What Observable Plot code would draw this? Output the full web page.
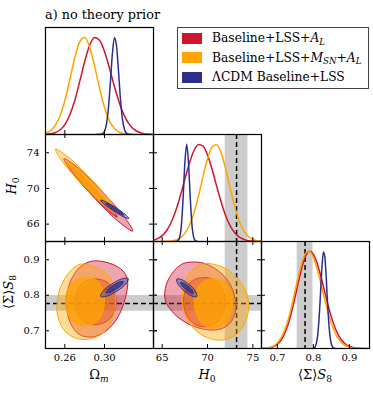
<!DOCTYPE html>
<html>
<head>
<meta charset="utf-8">
<script src="https://cdn.jsdelivr.net/npm/d3@7"></script>
<script src="https://cdn.jsdelivr.net/npm/@observablehq/plot@0.6"></script>
<style>
html,body{margin:0;padding:0;background:#fff;}
#root{position:relative;width:373px;height:396px;overflow:hidden;background:#fff;}
#root svg{position:absolute;left:0;top:0;}
.t{position:absolute;font-family:"DejaVu Serif","Liberation Serif",serif;color:#000;white-space:nowrap;line-height:1;}
.sub{font-size:70%;position:relative;top:0.3em;}
.legend{position:absolute;left:177px;top:27px;width:192px;height:62px;box-sizing:border-box;border:1px solid #444;background:#fff;}
.patch{position:absolute;left:4px;width:20px;height:11px;}
.lt{position:absolute;left:34px;font-size:12.3px;transform:translateY(-50%);}
</style>
</head>
<body>
<div id="root"></div>
<script>
// ---------- data ----------
const series = ["Baseline+LSS+A_L", "Baseline+LSS+M_SN+A_L", "ΛCDM Baseline+LSS"];
const omTicks = [0.26, 0.30];
const h0Ticks = [65, 70, 75];
const h0YTicks = [66, 70, 74];
const s8Ticks = [0.7, 0.8, 0.9];
const h0Ref = 73.2, h0Err = 1.25;
const s8Ref = 0.777, s8Err = 0.022;

// 1D marginals (parameter, normalised density)
const omRed = [[0.240,0.002],[0.245,0.007],[0.250,0.018],[0.255,0.046],[0.260,0.101],[0.265,0.200],[0.270,0.349],[0.275,0.546],[0.280,0.750],[0.285,0.918],[0.290,0.998],[0.295,0.969],[0.300,0.854],[0.305,0.682],[0.310,0.493],[0.315,0.325],[0.320,0.194],[0.325,0.104],[0.330,0.051],[0.335,0.023],[0.340,0.009],[0.345,0.003],[0.350,0.001]];
const omOrange = [[0.240,0.012],[0.245,0.034],[0.250,0.087],[0.255,0.187],[0.260,0.349],[0.265,0.565],[0.270,0.789],[0.275,0.953],[0.280,0.997],[0.285,0.900],[0.290,0.703],[0.295,0.475],[0.300,0.278],[0.305,0.140],[0.310,0.061],[0.315,0.023],[0.320,0.007],[0.325,0.002],[0.330,0.000],[0.350,0.000]];
const omBlue = [[0.292,0.000],[0.296,0.002],[0.298,0.008],[0.300,0.034],[0.302,0.110],[0.304,0.278],[0.306,0.546],[0.308,0.835],[0.310,0.995],[0.312,0.923],[0.314,0.667],[0.316,0.375],[0.318,0.164],[0.320,0.056],[0.322,0.015],[0.324,0.003],[0.328,0.000]];

const h0Red = [[64.0,0.013],[64.5,0.029],[65.0,0.060],[65.5,0.113],[66.0,0.198],[66.5,0.319],[67.0,0.470],[67.5,0.642],[68.0,0.805],[68.5,0.933],[69.0,0.996],[69.5,0.980],[70.0,0.888],[70.5,0.743],[71.0,0.570],[71.5,0.407],[72.0,0.265],[72.5,0.161],[73.0,0.089],[73.5,0.045],[74.0,0.022],[74.5,0.009],[75.0,0.004],[75.5,0.001],[76.0,0.000]];
const h0Orange = [[64.0,0.000],[65.0,0.001],[65.5,0.002],[66.0,0.005],[66.5,0.015],[67.0,0.037],[67.5,0.083],[68.0,0.164],[68.5,0.293],[69.0,0.468],[69.5,0.667],[70.0,0.850],[70.5,0.974],[71.0,0.995],[71.5,0.911],[72.0,0.745],[72.5,0.546],[73.0,0.359],[73.5,0.209],[74.0,0.110],[74.5,0.052],[75.0,0.022],[75.5,0.008],[76.0,0.003]];
const h0Blue = [[66.5,0.001],[66.7,0.005],[66.9,0.036],[67.1,0.152],[67.3,0.435],[67.5,0.810],[67.7,1.000],[67.9,0.810],[68.1,0.435],[68.3,0.152],[68.5,0.036],[68.7,0.005],[68.9,0.001]];

const s8Red = [[0.66,0.002],[0.67,0.004],[0.68,0.009],[0.69,0.021],[0.70,0.044],[0.71,0.085],[0.72,0.152],[0.73,0.249],[0.74,0.381],[0.75,0.540],[0.76,0.708],[0.77,0.857],[0.78,0.962],[0.79,1.000],[0.80,0.969],[0.81,0.882],[0.82,0.755],[0.83,0.607],[0.84,0.458],[0.85,0.325],[0.86,0.216],[0.87,0.135],[0.88,0.080],[0.89,0.044],[0.90,0.023],[0.91,0.011],[0.92,0.005],[0.93,0.002],[0.94,0.001],[0.95,0.000]];
const s8Orange = [[0.66,0.002],[0.67,0.006],[0.68,0.013],[0.69,0.028],[0.70,0.057],[0.71,0.108],[0.72,0.187],[0.73,0.297],[0.74,0.441],[0.75,0.607],[0.76,0.771],[0.77,0.906],[0.78,0.986],[0.79,0.995],[0.80,0.937],[0.81,0.826],[0.82,0.685],[0.83,0.528],[0.84,0.385],[0.85,0.260],[0.86,0.165],[0.87,0.099],[0.88,0.055],[0.89,0.028],[0.90,0.014],[0.91,0.006],[0.92,0.002],[0.93,0.001],[0.94,0.000]];
const s8Blue = [[0.800,0.003],[0.804,0.013],[0.808,0.047],[0.812,0.135],[0.816,0.311],[0.820,0.570],[0.824,0.841],[0.828,0.993],[0.832,0.940],[0.836,0.714],[0.840,0.435],[0.844,0.212],[0.848,0.082],[0.852,0.025],[0.856,0.006],[0.860,0.001]];

// 2D contours (95% and 68%): Omega_m vs H0
const omH0Red95 = [[0.3285,65.21],[0.3209,66.68],[0.2974,69.67],[0.2718,72.44],[0.2590,73.36],[0.2666,71.89],[0.2901,68.90],[0.3158,66.13]];
const omH0Red68 = [[0.3127,66.78],[0.3070,67.77],[0.2903,69.85],[0.2725,71.81],[0.2640,72.50],[0.2698,71.52],[0.2864,69.44],[0.3042,67.47]];
const omH0Orange95 = [[0.3138,67.08],[0.3071,68.43],[0.2858,71.13],[0.2624,73.61],[0.2506,74.41],[0.2572,73.06],[0.2785,70.36],[0.3019,67.88]];
const omH0Orange68 = [[0.3094,67.46],[0.3039,68.44],[0.2875,70.49],[0.2699,72.40],[0.2613,73.06],[0.2668,72.07],[0.2832,70.03],[0.3008,68.11]];
const omH0Blue95 = [[0.3245,66.63],[0.3211,67.07],[0.3113,67.85],[0.3009,68.52],[0.2959,68.69],[0.2994,68.25],[0.3091,67.47],[0.3195,66.80]];
const omH0Blue68 = [[0.3195,67.01],[0.3172,67.28],[0.3109,67.79],[0.3042,68.23],[0.3010,68.35],[0.3032,68.08],[0.3096,67.57],[0.3163,67.13]];

// Omega_m vs S8
const omS8Red95 = [[0.2909,0.8970],[0.3077,0.8876],[0.3185,0.8689],[0.3232,0.8435],[0.3218,0.8013],[0.3171,0.7590],[0.3094,0.7214],[0.2983,0.6933],[0.2859,0.6820],[0.2741,0.6905],[0.2657,0.7214],[0.2617,0.7684],[0.2633,0.8200],[0.2701,0.8623],[0.2791,0.8876]];
const omS8Red68 = [[0.2909,0.8463],[0.3027,0.8369],[0.3094,0.8125],[0.3117,0.7825],[0.3094,0.7496],[0.3020,0.7261],[0.2909,0.7168],[0.2801,0.7243],[0.2731,0.7468],[0.2707,0.7806],[0.2731,0.8153],[0.2801,0.8388]];
const omS8Orange95 = [[0.2758,0.8876],[0.2892,0.8811],[0.3010,0.8623],[0.3087,0.8341],[0.3111,0.7966],[0.3101,0.7543],[0.3043,0.7121],[0.2943,0.6858],[0.2808,0.6754],[0.2691,0.6811],[0.2590,0.7027],[0.2529,0.7402],[0.2523,0.7825],[0.2566,0.8294],[0.2657,0.8689]];
const omS8Orange68 = [[0.2825,0.8501],[0.2926,0.8407],[0.2983,0.8153],[0.3000,0.7825],[0.2976,0.7496],[0.2909,0.7233],[0.2801,0.7139],[0.2701,0.7214],[0.2633,0.7449],[0.2607,0.7778],[0.2623,0.8125],[0.2701,0.8407]];
const omS8Blue95 = [[0.3240,0.8468],[0.3216,0.8322],[0.3124,0.8116],[0.3019,0.7970],[0.2961,0.7970],[0.2985,0.8117],[0.3077,0.8322],[0.3182,0.8468]];
const omS8Blue68 = [[0.3191,0.8384],[0.3175,0.8299],[0.3117,0.8173],[0.3051,0.8079],[0.3017,0.8073],[0.3033,0.8158],[0.3091,0.8284],[0.3157,0.8378]];

// H0 vs S8
const h0S8Red95 = [[68.08,0.8933],[69.55,0.8905],[71.02,0.8717],[72.31,0.8388],[73.04,0.7919],[73.04,0.7496],[72.31,0.7168],[71.02,0.7027],[69.37,0.7055],[67.72,0.7214],[66.25,0.7496],[65.33,0.7872],[65.44,0.8294],[66.25,0.8670],[67.16,0.8876]];
const h0S8Red68 = [[69.63,0.8501],[70.84,0.8426],[71.65,0.8182],[71.94,0.7825],[71.65,0.7468],[70.84,0.7205],[69.63,0.7111],[68.45,0.7205],[67.64,0.7468],[67.35,0.7825],[67.64,0.8182],[68.45,0.8426]];
const h0S8Orange95 = [[69.92,0.8895],[71.76,0.8783],[73.23,0.8501],[74.22,0.8107],[74.55,0.7684],[74.18,0.7261],[73.23,0.6905],[71.83,0.6745],[70.36,0.6773],[68.93,0.6961],[67.83,0.7290],[67.24,0.7712],[67.27,0.8153],[67.83,0.8548],[68.74,0.8801]];
const h0S8Orange68 = [[70.66,0.8463],[71.83,0.8369],[72.57,0.8107],[72.79,0.7778],[72.49,0.7430],[71.76,0.7168],[70.66,0.7074],[69.55,0.7168],[68.82,0.7430],[68.52,0.7778],[68.74,0.8125],[69.55,0.8388]];
const h0S8Blue95 = [[68.82,0.7966],[68.70,0.8097],[68.01,0.8295],[67.14,0.8443],[66.61,0.8454],[66.73,0.8322],[67.42,0.8124],[68.29,0.7977]];
const h0S8Blue68 = [[68.41,0.8055],[68.31,0.8130],[67.86,0.8252],[67.33,0.8350],[67.02,0.8365],[67.12,0.8290],[67.57,0.8168],[68.10,0.8070]];

// ---------- layout & style ----------
const RED = "#d01430", ORANGE = "#ffa500", BLUE = "#2b2f8b", K = "#000", BAND = "#cccccc";
const W = 373, H = 396;
const colX = [45, 153, 261, 369], rowY = [27, 134, 241, 348];
const PW = 108, PH = 107, TL = 4;
const omDomain = [0.2405, 0.3494], h0XDomain = [64.04, 75.95], h0YDomain = [64.05, 76.05];
const s8XDomain = [0.656, 0.956], s8YDomain = [0.650, 0.9515], densDomain = [0, 1.1];
const root = document.getElementById("root");

function panel(c, r, xd, yd, marks) {
  root.appendChild(Plot.plot({
    width: W, height: H,
    marginLeft: colX[c], marginRight: W - colX[c + 1],
    marginTop: rowY[r], marginBottom: H - rowY[r + 1],
    x: {domain: xd, axis: null}, y: {domain: yd, axis: null},
    style: {background: "transparent", overflow: "visible", fontFamily: "'DejaVu Serif', 'Liberation Serif', serif", fontSize: "10px", color: "#000"},
    marks
  }));
}
const dens = (pts, color) => Plot.line(pts, {x: d => d[0], y: d => d[1], stroke: color, strokeWidth: 1.5, curve: "monotone-x", clip: true});
const cont = (pts, color, op) => Plot.line(pts, {x: d => d[0], y: d => d[1], curve: "catmull-rom-closed", fill: color, fillOpacity: op, stroke: color, strokeWidth: 1, clip: true});
const contours = (r95, r68, o95, o68, b95, b68) => [
  cont(r95, RED, 0.38), cont(r68, RED, 0.45),
  cont(o95, ORANGE, 0.4), cont(o68, ORANGE, 0.75),
  cont(b95, BLUE, 0.35), cont(b68, BLUE, 0.75)
];
const tBottom = v => Plot.tickX(v, {x: d => d, insetTop: PH - TL, stroke: K});
const tTop = v => Plot.tickX(v, {x: d => d, insetBottom: PH - TL, stroke: K});
const tLeft = v => Plot.tickY(v, {y: d => d, insetRight: PW - TL, stroke: K});
const tRight = v => Plot.tickY(v, {y: d => d, insetLeft: PW - TL, insetRight: -TL, stroke: K});
const frame = () => Plot.frame({stroke: K, strokeWidth: 1.2});
const vBand = (yd) => Plot.rect([h0Ref], {x1: d => d - h0Err, x2: d => d + h0Err, y1: () => yd[0], y2: () => yd[1], fill: BAND});
const vBandS8 = (yd) => Plot.rect([s8Ref], {x1: d => d - s8Err, x2: d => d + s8Err, y1: () => yd[0], y2: () => yd[1], fill: BAND});
const hBand = (xd) => Plot.rect([s8Ref], {y1: d => d - s8Err, y2: d => d + s8Err, x1: () => xd[0], x2: () => xd[1], fill: BAND});
const dashX = v => Plot.ruleX([v], {x: d => d, stroke: K, strokeWidth: 1.5, strokeDasharray: "5,3"});
const dashY = v => Plot.ruleY([v], {y: d => d, stroke: K, strokeWidth: 1.5, strokeDasharray: "5,3"});
const f2 = d3.format(".2f"), f1 = d3.format(".1f");

// Omega_m 1D
panel(0, 0, omDomain, densDomain, [dens(omRed, RED), dens(omOrange, ORANGE), dens(omBlue, BLUE), frame(), tBottom(omTicks)]);
// Omega_m - H0
panel(0, 1, omDomain, h0YDomain, [
  ...contours(omH0Red95, omH0Red68, omH0Orange95, omH0Orange68, omH0Blue95, omH0Blue68),
  frame(), tTop(omTicks), tBottom(omTicks), tLeft(h0YTicks), tRight(h0YTicks),
  Plot.axisY(h0YTicks, {anchor: "left", tickSize: 0, tickPadding: 6, label: null})
]);
// H0 1D
panel(1, 1, h0XDomain, densDomain, [vBand(densDomain), dashX(h0Ref), dens(h0Red, RED), dens(h0Orange, ORANGE), dens(h0Blue, BLUE), frame(), tBottom(h0Ticks)]);
// Omega_m - S8
panel(0, 2, omDomain, s8YDomain, [
  hBand(omDomain), dashY(s8Ref),
  ...contours(omS8Red95, omS8Red68, omS8Orange95, omS8Orange68, omS8Blue95, omS8Blue68),
  frame(), tTop(omTicks), tBottom(omTicks), tLeft(s8Ticks), tRight(s8Ticks),
  Plot.axisY(s8Ticks, {anchor: "left", tickSize: 0, tickPadding: 6, tickFormat: f1, label: null}),
  Plot.axisX(omTicks, {anchor: "bottom", tickSize: 0, tickPadding: 5, tickFormat: f2, label: null})
]);
// H0 - S8
panel(1, 2, h0XDomain, s8YDomain, [
  vBand(s8YDomain), hBand(h0XDomain), dashX(h0Ref), dashY(s8Ref),
  ...contours(h0S8Red95, h0S8Red68, h0S8Orange95, h0S8Orange68, h0S8Blue95, h0S8Blue68),
  frame(), tTop(h0Ticks), tBottom(h0Ticks), tLeft(s8Ticks), tRight(s8Ticks),
  Plot.axisX(h0Ticks, {anchor: "bottom", tickSize: 0, tickPadding: 5, label: null})
]);
// S8 1D
panel(2, 2, s8XDomain, densDomain, [
  vBandS8(densDomain), dashX(s8Ref),
  dens(s8Red, RED), dens(s8Orange, ORANGE), dens(s8Blue, BLUE), frame(), tBottom(s8Ticks),
  Plot.axisX(s8Ticks, {anchor: "bottom", tickSize: 0, tickPadding: 5, tickFormat: f1, label: null})
]);

// ---------- text: title, axis titles, legend ----------
function addHTML(html) { root.insertAdjacentHTML("beforeend", html); }
addHTML(`<div class="t" style="left:45px;top:9px;font-size:12.8px;">a) no theory prior</div>`);
addHTML(`<div class="t" style="left:99px;top:368px;font-size:13px;transform:translateX(-50%);">Ω<span class="sub"><i>m</i></span></div>`);
addHTML(`<div class="t" style="left:207px;top:368px;font-size:13px;transform:translateX(-50%);"><i>H</i><span class="sub">0</span></div>`);
addHTML(`<div class="t" style="left:315px;top:368px;font-size:13px;transform:translateX(-50%);">⟨Σ⟩<i>S</i><span class="sub">8</span></div>`);
addHTML(`<div class="t" style="left:12px;top:186px;font-size:13px;transform:translate(-50%,-50%) rotate(-90deg);"><i>H</i><span class="sub">0</span></div>`);
addHTML(`<div class="t" style="left:9px;top:292px;font-size:13px;transform:translate(-50%,-50%) rotate(-90deg);">⟨Σ⟩<i>S</i><span class="sub">8</span></div>`);

const legendColors = [RED, ORANGE, BLUE];
const legendHTML = [
  `Baseline+LSS+<i>A</i><span class="sub"><i>L</i></span>`,
  `Baseline+LSS+<i>M</i><span class="sub"><i>SN</i></span>+<i>A</i><span class="sub"><i>L</i></span>`,
  `ΛCDM Baseline+LSS`
];
const rowCenters = [10, 29.5, 49];
let lg = `<div class="legend">`;
series.forEach((s, i) => {
  lg += `<div class="patch" style="top:${rowCenters[i] - 5.5}px;background:${legendColors[i]};"></div>`;
  lg += `<div class="t lt" style="top:${rowCenters[i]}px;" title="${s}">${legendHTML[i]}</div>`;
});
lg += `</div>`;
addHTML(lg);
</script>
</body>
</html>
